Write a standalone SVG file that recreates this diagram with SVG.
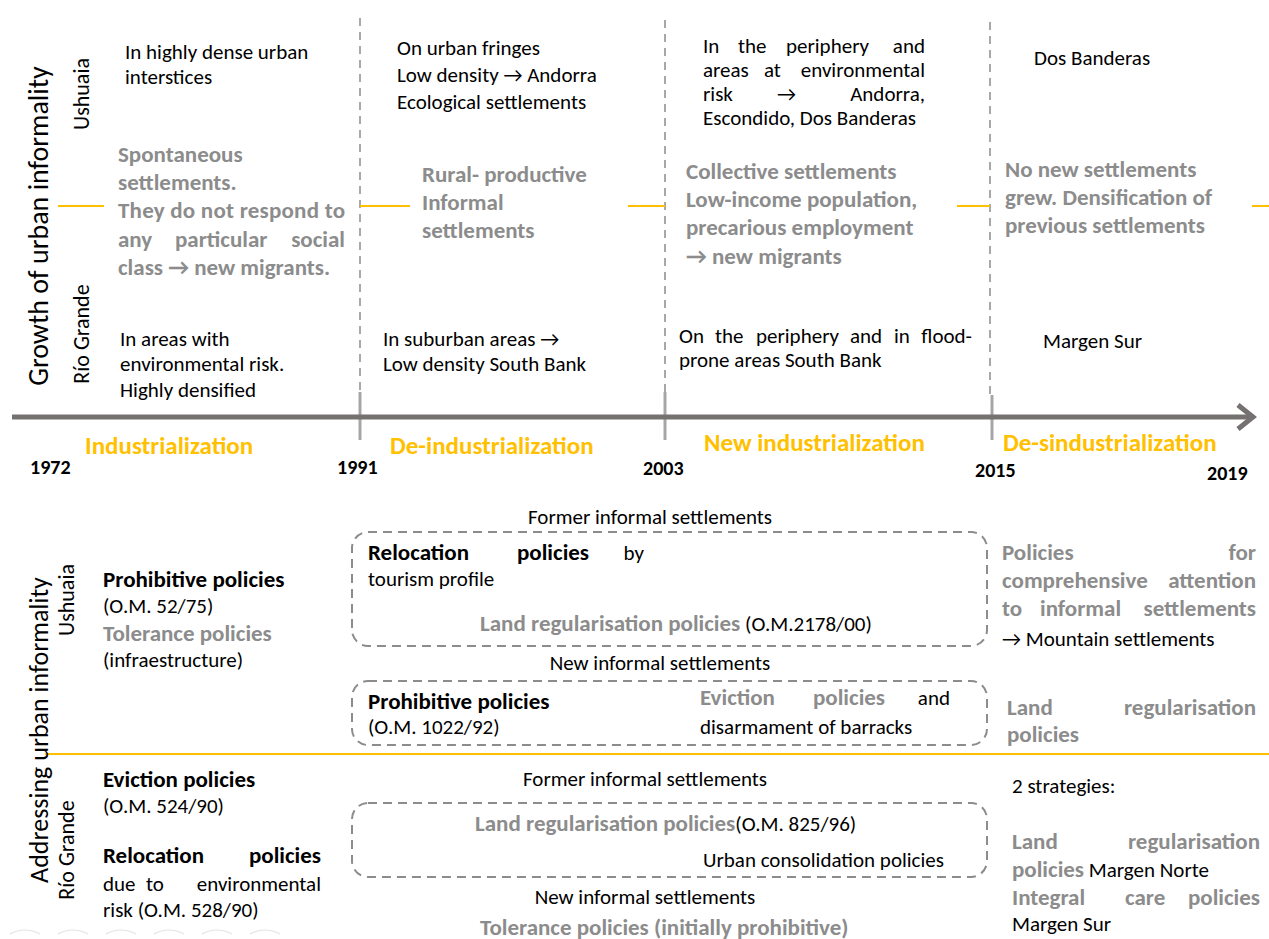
<svg xmlns="http://www.w3.org/2000/svg" width="1269" height="939" viewBox="0 0 1269 939">
  <defs>
    <style>
      text { font-family: Carlito, Lato, "Liberation Sans", sans-serif; font-size: 21px; fill: #000; }
      .g { fill: #8c8c8c; font-weight: bold; font-size: 23px; }
      .b { font-weight: bold; font-size: 23px; }
      .per { fill: #ffc000; font-weight: bold; font-size: 25px; }
      .yr { font-weight: bold; font-size: 20px; }
      .big { font-size: 28px; }
      .big2 { font-size: 26px; }
      .side { font-size: 22px; }
      .mid { text-anchor: middle; }
      .end { text-anchor: end; }
      .dash { stroke: #8c8c8c; stroke-width: 1.5; stroke-dasharray: 8 6; fill: none; }
      .box { stroke: #8c8c8c; stroke-width: 2; stroke-dasharray: 9 6; fill: none; }
      .tick { stroke: #a6a6a6; stroke-width: 3; }
      .or { stroke: #ffc000; stroke-width: 2; }
    </style>
  </defs>
  <rect width="1269" height="939" fill="#fff"/>

  <!-- timeline, period separators and row dividers -->
  <g id="connectors">
    <line class="dash" x1="360" y1="18" x2="360" y2="392"/>
    <line class="dash" x1="665" y1="20" x2="665" y2="392"/>
    <line class="dash" x1="990" y1="22" x2="990" y2="395"/>
    <line class="tick" x1="360" y1="392" x2="360" y2="440"/>
    <line class="tick" x1="665" y1="392" x2="665" y2="440"/>
    <line class="tick" x1="992" y1="395" x2="992" y2="440"/>
    <line x1="12" y1="417" x2="1250" y2="417" stroke="#767171" stroke-width="5"/>
    <polyline points="1238,405 1253,417 1238,429" fill="none" stroke="#767171" stroke-width="5"/>
    <line class="or" x1="58" y1="206" x2="104" y2="206"/>
    <line class="or" x1="360" y1="206" x2="410" y2="206"/>
    <line class="or" x1="628" y1="206" x2="665" y2="206"/>
    <line class="or" x1="957" y1="206" x2="990" y2="206"/>
    <line class="or" x1="1252" y1="206" x2="1269" y2="206"/>
    <line class="or" x1="45" y1="754" x2="1269" y2="754"/>
  </g>

  <!-- row titles -->
  <g id="titles">
    <text class="big mid" transform="translate(48,226) rotate(-90)">Growth of urban informality</text>
    <text class="side mid" transform="translate(89,94) rotate(-90)">Ushuaia</text>
    <text class="side mid" transform="translate(89,334) rotate(-90)">Río Grande</text>
    <text class="big2 mid" transform="translate(48,730) rotate(-90)">Addressing urban informality</text>
    <text class="side mid" transform="translate(74,600) rotate(-90)">Ushuaia</text>
    <text class="side mid" transform="translate(74,850) rotate(-90)">Río Grande</text>
  </g>

  <!-- periods and years -->
  <g id="periods">
    <text class="per" x="85" y="454">Industrialization</text>
    <text class="per" x="390" y="454">De-industrialization</text>
    <text class="per" x="704" y="451">New industrialization</text>
    <text class="per" x="1003" y="451">De-sindustrialization</text>
    <text class="yr" x="30" y="474">1972</text>
    <text class="yr" x="337" y="474">1991</text>
    <text class="yr" x="643" y="475">2003</text>
    <text class="yr" x="975" y="477">2015</text>
    <text class="yr" x="1207" y="480">2019</text>
  </g>

  <!-- growth: Ushuaia -->
  <g id="u1972">
    <text x="125" y="59">In highly dense urban</text>
    <text x="125" y="84">interstices</text>
  </g>
  <g id="u1991">
    <text x="397" y="55">On urban fringes</text>
    <text x="397" y="82">Low density → Andorra</text>
    <text x="397" y="109">Ecological settlements</text>
  </g>
  <g id="u2003">
    <text x="703" y="53">In</text>
    <text x="738" y="53">the</text>
    <text x="786" y="53">periphery</text>
    <text class="end" x="925" y="53">and</text>
    <text x="703" y="77">areas</text>
    <text x="764" y="77">at</text>
    <text class="end" x="925" y="77">environmental</text>
    <text x="703" y="101">risk</text>
    <text x="777" y="101">→</text>
    <text class="end" x="925" y="101">Andorra,</text>
    <text x="703" y="125">Escondido, Dos Banderas</text>
  </g>
  <g id="u2015">
    <text x="1034" y="65">Dos Banderas</text>
  </g>

  <!-- growth: settlement types -->
  <g id="t1972">
    <text class="g" x="118" y="162">Spontaneous</text>
    <text class="g" x="118" y="190">settlements.</text>
    <text class="g" x="118" y="218" textLength="227" lengthAdjust="spacing">They do not respond to</text>
    <text class="g" x="118" y="247">any</text>
    <text class="g" x="175" y="247">particular</text>
    <text class="g end" x="345" y="247">social</text>
    <text class="g" x="118" y="275">class → new migrants.</text>
  </g>
  <g id="t1991">
    <text class="g" x="422" y="182">Rural- productive</text>
    <text class="g" x="422" y="210">Informal</text>
    <text class="g" x="422" y="238">settlements</text>
  </g>
  <g id="t2003">
    <text class="g" x="686" y="179">Collective settlements</text>
    <text class="g" x="686" y="207">Low-income population,</text>
    <text class="g" x="686" y="235">precarious employment</text>
    <text class="g" x="686" y="264">→ new migrants</text>
  </g>
  <g id="t2015">
    <text class="g" x="1005" y="177">No new settlements</text>
    <text class="g" x="1005" y="205">grew. Densification of</text>
    <text class="g" x="1005" y="233">previous settlements</text>
  </g>

  <!-- growth: Río Grande -->
  <g id="r1972">
    <text x="120" y="346">In areas with</text>
    <text x="120" y="371">environmental risk.</text>
    <text x="120" y="397">Highly densified</text>
  </g>
  <g id="r1991">
    <text x="383" y="346">In suburban areas →</text>
    <text x="383" y="371">Low density South Bank</text>
  </g>
  <g id="r2003">
    <text x="679" y="343">On</text>
    <text x="715" y="343">the</text>
    <text x="756" y="343">periphery</text>
    <text x="850" y="343">and</text>
    <text x="894" y="343">in</text>
    <text class="end" x="972" y="343">flood-</text>
    <text x="679" y="367">prone areas South Bank</text>
  </g>
  <g id="r2015">
    <text x="1043" y="348">Margen Sur</text>
  </g>

  <!-- policies: Ushuaia -->
  <g id="pu1972">
    <text class="b" x="103" y="587">Prohibitive policies</text>
    <text x="103" y="613">(O.M. 52/75)</text>
    <text class="g" x="103" y="641">Tolerance policies</text>
    <text x="103" y="667">(infraestructure)</text>
  </g>
  <g id="pu-former">
    <text class="mid" x="650" y="524">Former informal settlements</text>
    <rect class="box" x="352" y="532" width="635" height="114" rx="16"/>
    <text class="b" x="368" y="560">Relocation</text>
    <text class="b" x="517" y="560">policies</text>
    <text class="end" x="644" y="560">by</text>
    <text x="368" y="586">tourism profile</text>
    <text x="480" y="631"><tspan class="g">Land regularisation policies</tspan> (O.M.2178/00)</text>
  </g>
  <g id="pu-new">
    <text class="mid" x="660" y="670">New informal settlements</text>
    <rect class="box" x="352" y="681" width="635" height="64" rx="16"/>
    <text class="b" x="368" y="709">Prohibitive policies</text>
    <text x="368" y="734">(O.M. 1022/92)</text>
    <text class="g" x="700" y="705">Eviction</text>
    <text class="g" x="813" y="705">policies</text>
    <text class="end" x="950" y="705">and</text>
    <text x="700" y="734">disarmament of barracks</text>
  </g>
  <g id="pu2015">
    <text class="g" x="1002" y="560">Policies</text>
    <text class="g end" x="1256" y="560">for</text>
    <text class="g" x="1002" y="588">comprehensive</text>
    <text class="g end" x="1256" y="588">attention</text>
    <text class="g" x="1002" y="616">to</text>
    <text class="g" x="1040" y="616">informal</text>
    <text class="g end" x="1256" y="616">settlements</text>
    <text x="1002" y="646">→ Mountain settlements</text>
    <text class="g" x="1007" y="715">Land</text>
    <text class="g end" x="1256" y="715">regularisation</text>
    <text class="g" x="1007" y="742">policies</text>
  </g>

  <!-- policies: Río Grande -->
  <g id="pr1972">
    <text class="b" x="103" y="787">Eviction policies</text>
    <text x="103" y="813">(O.M. 524/90)</text>
    <text class="b" x="103" y="863">Relocation</text>
    <text class="b end" x="321" y="863">policies</text>
    <text x="103" y="891">due</text>
    <text x="146" y="891">to</text>
    <text class="end" x="321" y="891">environmental</text>
    <text x="103" y="917">risk (O.M. 528/90)</text>
  </g>
  <g id="pr-former">
    <text class="mid" x="645" y="786">Former informal settlements</text>
    <rect class="box" x="352" y="803" width="635" height="74" rx="16"/>
    <text x="475" y="831"><tspan class="g">Land regularisation policies</tspan>(O.M. 825/96)</text>
    <text x="703" y="867">Urban consolidation policies</text>
  </g>
  <g id="pr-new">
    <text class="mid" x="645" y="904">New informal settlements</text>
    <text class="g" x="480" y="935">Tolerance policies (initially prohibitive)</text>
  </g>
  <g id="pr2015">
    <text x="1012" y="793">2 strategies:</text>
    <text class="g" x="1012" y="849">Land</text>
    <text class="g end" x="1260" y="849">regularisation</text>
    <text x="1012" y="877"><tspan class="g">policies</tspan> Margen Norte</text>
    <text class="g" x="1012" y="905">Integral</text>
    <text class="g" x="1125" y="905">care</text>
    <text class="g end" x="1260" y="905">policies</text>
    <text x="1012" y="931">Margen Sur</text>
  </g>

  <!-- faint arcs along the bottom edge -->
  <g id="arcs" fill="none" stroke="#e3e3e3" stroke-width="1.2">
    <path d="M10,934 Q25,926 40,934"/>
    <path d="M58,934 Q73,926 88,934"/>
    <path d="M106,934 Q121,926 136,934"/>
    <path d="M154,934 Q169,926 184,934"/>
    <path d="M202,934 Q217,926 232,934"/>
    <path d="M250,934 Q265,926 280,934"/>
  </g>
</svg>
